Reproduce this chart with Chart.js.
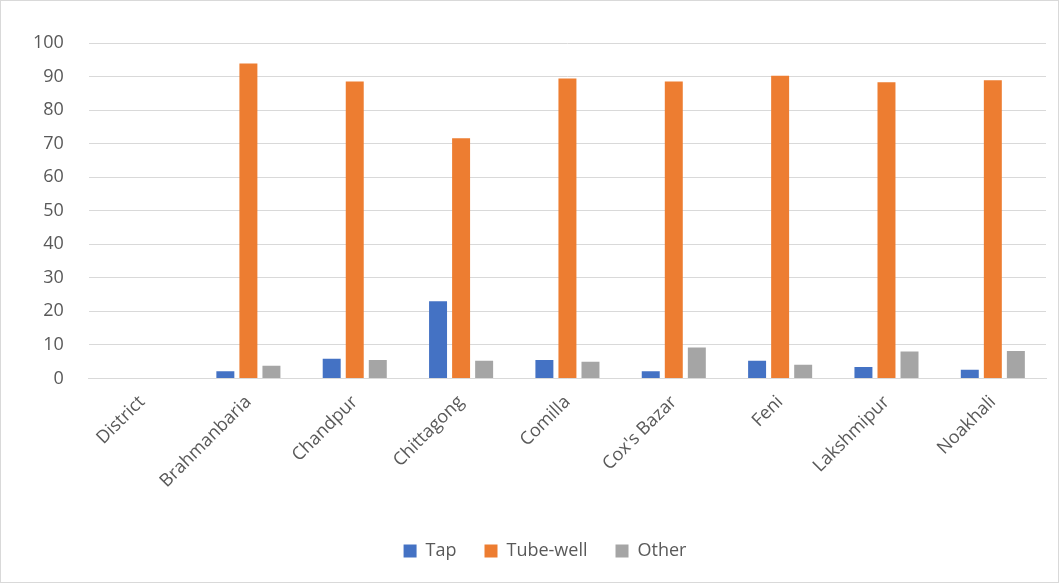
<!DOCTYPE html>
<html lang="en">
<head>
    <meta charset="UTF-8">
    <title>Drinking water source by district</title>
    <script src="https://cdn.jsdelivr.net/npm/chart.js@4.4.0/dist/chart.umd.min.js"></script>
    <style>
        html, body { margin: 0; padding: 0; background: #fff; }
        #wrap {
            position: absolute; left: 0; top: 0;
            width: 1057px; height: 581px;
            border: 1px solid #d9d9d9;
        }
    </style>
</head>
<body>
    <div id="wrap">
        <canvas id="waterChart"></canvas>
    </div>
    <script>
        // values (percent)
        const districts = ['District', 'Brahmanbaria', 'Chandpur', 'Chittagong', 'Comilla', "Cox's Bazar", 'Feni', 'Lakshmipur', 'Noakhali'];
        const tap = [null, 2.1, 5.9, 23.0, 5.5, 2.1, 5.3, 3.4, 2.6];
        const tubeWell = [null, 93.9, 88.5, 71.6, 89.4, 88.5, 90.2, 88.3, 88.9];
        const other = [null, 3.8, 5.5, 5.3, 5.0, 9.2, 4.1, 8.0, 8.2];
        const yTicks = [0, 10, 20, 30, 40, 50, 60, 70, 80, 90, 100];

        const fontFamily = "'Open Sans', sans-serif";
        const textColor = '#595959';
        const gridColor = '#d9d9d9';

        // the legend sits a little right of centre in the original
        const legendShift = {
            id: 'legendShift',
            afterLayout(chart) {
                chart.legend.left += 18;
                chart.legend.right += 18;
            }
        };

        const ctx = document.getElementById('waterChart');

        new Chart(ctx, {
            type: 'bar',
            data: {
                labels: districts,
                datasets: [
                    { label: 'Tap', data: tap, backgroundColor: '#4472c4' },
                    { label: 'Tube-well', data: tubeWell, backgroundColor: '#ed7d31' },
                    { label: 'Other', data: other, backgroundColor: '#a5a5a5' }
                ]
            },
            options: {
                responsive: true,
                maintainAspectRatio: false,
                animation: false,
                categoryPercentage: 0.65,
                barPercentage: 0.78,
                layout: { padding: { top: 42, right: 12, left: 7, bottom: 12 } },
                plugins: {
                    legend: {
                        position: 'bottom',
                        labels: {
                            color: textColor,
                            font: { family: fontFamily, size: 18 },
                            boxWidth: 13,
                            boxHeight: 13,
                            padding: 28
                        }
                    },
                    tooltip: { enabled: false }
                },
                scales: {
                    x: {
                        grid: { display: false },
                        border: { color: gridColor },
                        ticks: {
                            color: textColor,
                            font: { family: fontFamily, size: 18 },
                            minRotation: 45,
                            maxRotation: 45,
                            padding: 5
                        },
                        // leave room between the rotated labels and the legend
                        afterFit: scale => { scale.height += 17; }
                    },
                    y: {
                        min: 0,
                        max: 100,
                        afterBuildTicks: axis => { axis.ticks = yTicks.map(v => ({ value: v })); },
                        grid: { color: gridColor, drawTicks: false },
                        border: { display: false },
                        ticks: {
                            color: textColor,
                            font: { family: fontFamily, size: 18 },
                            padding: 25
                        }
                    }
                }
            },
            plugins: [legendShift]
        });
    </script>
</body>
</html>
